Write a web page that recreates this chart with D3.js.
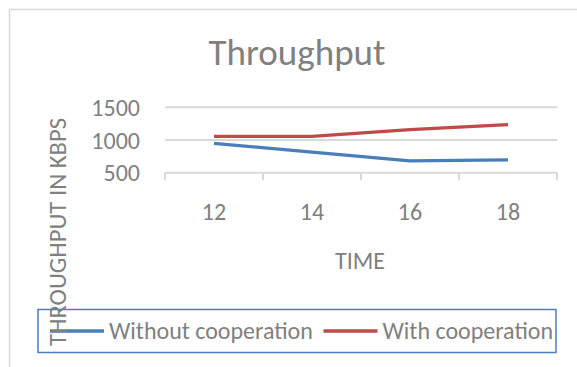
<!DOCTYPE html>
<html lang="en">
    <head>
        <meta charset="utf-8">
        <title>Throughput</title>
        <script type="text/javascript" src="https://d3js.org/d3.v7.min.js"></script>
        <style>
            body { margin: 0; background: white; }
            text { font-family: Calibri, Carlito, Lato, sans-serif; fill: #808080; }
            .grid line { stroke: #d9d9d9; stroke-width: 2; }
            .series { fill: none; stroke-width: 3.3; stroke-linejoin: round; }
        </style>
    </head>
    <body>
        <svg id="chart" width="577" height="367"></svg>
    </body>
    <script>
        // data
        let times = ["12", "14", "16", "18"];
        let withoutCoop = [950, 815, 680, 695];
        let withCoop = [1055, 1055, 1160, 1235];
        let yTicks = [500, 1000, 1500];
        let seriesNames = ["Without cooperation", "With cooperation"];
        let seriesColors = ["#4a7ebb", "#be4b48"];

        let svg = d3.select("#chart");

        // outer chart frame (runs off the page at right / bottom)
        svg.append("rect")
            .attr("x", 9.5).attr("y", 9.5)
            .attr("width", 620).attr("height", 420)
            .attr("fill", "white")
            .attr("stroke", "#d9d9d9")
            .attr("stroke-width", 1.5);

        let plot = {left: 165, right: 557, top: 107.3, bottom: 172.7};

        let xScale = d3.scaleBand()
                        .domain(times)
                        .range([plot.left, plot.right])
                        .padding(0);
        let yScale = d3.scaleLinear()
                        .domain([500, 1500])
                        .range([plot.bottom, plot.top]);

        // horizontal gridlines (the 500 one is the x axis line)
        svg.append("g")
            .attr("class", "grid")
            .selectAll("line")
            .data(yTicks)
            .join("line")
            .attr("x1", plot.left).attr("x2", plot.right)
            .attr("y1", d => yScale(d)).attr("y2", d => yScale(d));

        // tick marks between categories, below the axis
        let bounds = times.map(t => xScale(t)).concat([plot.right]);
        svg.append("g")
            .attr("class", "grid")
            .selectAll("line")
            .data(bounds)
            .join("line")
            .attr("x1", d => d).attr("x2", d => d)
            .attr("y1", plot.bottom).attr("y2", plot.bottom + 7.5);

        // y tick labels
        svg.append("g")
            .selectAll("text")
            .data(yTicks)
            .join("text")
            .attr("x", 140)
            .attr("y", d => yScale(d))
            .attr("dy", "0.36em")
            .attr("text-anchor", "end")
            .style("font-size", "24px")
            .text(d => d);

        // x tick labels
        svg.append("g")
            .selectAll("text")
            .data(times)
            .join("text")
            .attr("x", d => xScale(d) + xScale.bandwidth() / 2)
            .attr("y", 220)
            .attr("text-anchor", "middle")
            .style("font-size", "24px")
            .text(d => d);

        // lines
        let valueline = d3.line()
                        .x((d, i) => xScale(times[i]) + xScale.bandwidth() / 2)
                        .y(d => yScale(d));

        svg.append("path")
            .datum(withoutCoop)
            .attr("class", "series")
            .attr("stroke", seriesColors[0])
            .attr("d", valueline);

        svg.append("path")
            .datum(withCoop)
            .attr("class", "series")
            .attr("stroke", seriesColors[1])
            .attr("d", valueline);

        // title
        svg.append("text")
            .attr("x", 297).attr("y", 65)
            .attr("text-anchor", "middle")
            .style("font-size", "37px")
            .text("Throughput");

        // x axis title
        svg.append("text")
            .attr("x", 360).attr("y", 269)
            .attr("text-anchor", "middle")
            .style("font-size", "24px")
            .text("TIME");

        // legend
        let legend = svg.append("g");
        legend.append("rect")
            .attr("x", 38).attr("y", 309.5)
            .attr("width", 518).attr("height", 43)
            .attr("fill", "none")
            .attr("stroke", "#4a7ebb")
            .attr("stroke-width", 1.5);

        let legendX = [50, 323.5];
        seriesNames.forEach((name, i) => {
            legend.append("line")
                .attr("x1", legendX[i]).attr("x2", legendX[i] + 54)
                .attr("y1", 331).attr("y2", 331)
                .attr("stroke", seriesColors[i])
                .attr("stroke-width", 3.3);
            legend.append("text")
                .attr("x", legendX[i] + 59)
                .attr("y", 338.5)
                .style("font-size", "24px")
                .text(name);
        });

        // y axis title (drawn last, it overlaps the legend)
        svg.append("text")
            .attr("transform", "translate(66,232) rotate(-90)")
            .attr("text-anchor", "middle")
            .attr("textLength", 228)
            .attr("lengthAdjust", "spacingAndGlyphs")
            .style("font-size", "24px")
            .text("THROUGHPUT IN KBPS");
    </script>
</html>
